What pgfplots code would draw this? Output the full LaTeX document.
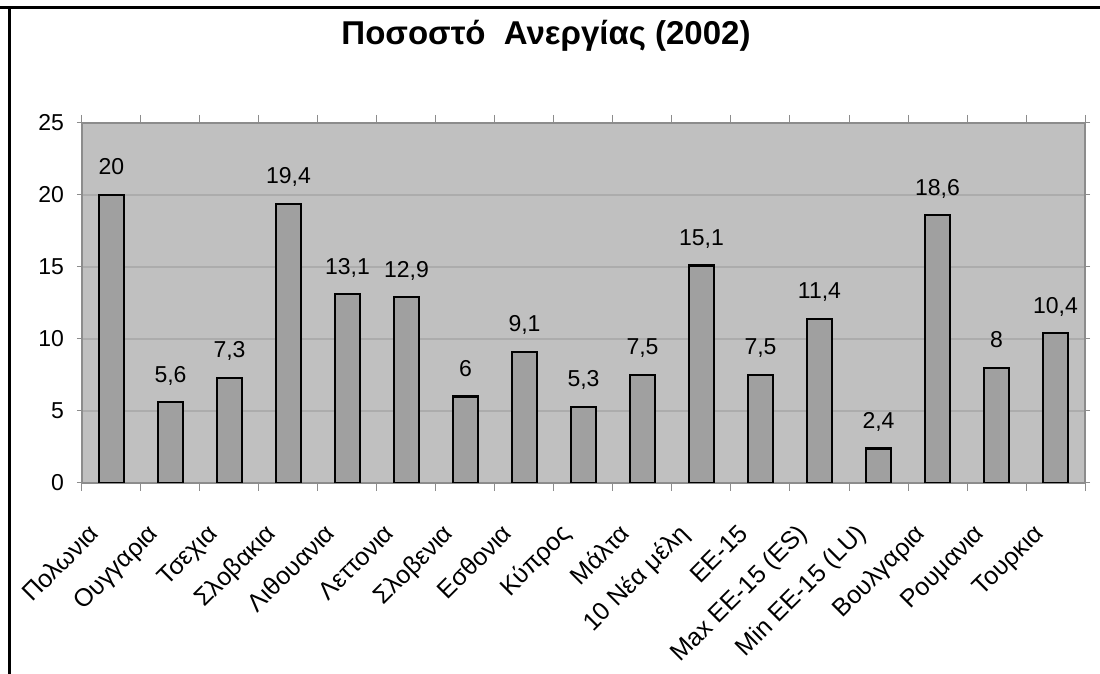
\documentclass[border=0pt]{standalone}
\usepackage{fontspec}
\setmainfont{Liberation Sans}
\usepackage{pgfplots}
\pgfplotsset{compat=1.18}

\definecolor{plotbg}{RGB}{192,192,192}
\definecolor{barfill}{RGB}{160,160,160}
\definecolor{gridc}{RGB}{172,172,172}
\definecolor{axisc}{RGB}{140,140,140}

\begin{document}
\begin{tikzpicture}[x=1pt,y=1pt]
% page = 1100x674 px, 1 px = 0.5pt, axis origin at px (82,483)
\useasboundingbox (-41,-95.5) rectangle (509,241.5);
\draw[line width=1.5pt] (-41,237.5) -- (509,237.5);
\draw[line width=1.5pt] (-36,237.5) -- (-36,-95.5);
\node[anchor=base, font=\bfseries\fontsize{16.5}{19}\selectfont] at (232,219) {Ποσοστό\ \ Ανεργίας (2002)};

\begin{axis}[
  at={(0,0)}, anchor=south west,
  scale only axis, width=501.5pt, height=180pt,
  ybar, bar width=12.5pt,
  ymin=0, ymax=25, ytick={0,5,...,25},
  xmin=-0.5, xmax=16.5,
  xtick={0,...,16},
  minor xtick={-0.5,0.5,...,16.5},
  xticklabels={Πολωνια, Ουγγαρια, Τσεχια, Σλοβακια, Λιθουανια, Λεττονια, Σλοβενια, Εσθονια, Κύπρος, Μάλτα, 10 Νέα μέλη, ΕΕ-15, Max ΕΕ-15 (ES), Min ΕΕ-15 (LU), Βουλγαρια, Ρουμανια, Τουρκια},
  axis background/.style={fill=plotbg},
  axis line style={draw=axisc, line width=0.6pt},
  ymajorgrids, grid style={draw=gridc, line width=0.6pt},
  xtick style={draw=none},
  minor x tick style={draw=axisc, line width=0.5pt},
  ytick style={draw=axisc, line width=0.5pt},
  tick align=outside, major tick length=2.5pt, minor tick length=4pt,
  tick label style={font=\fontsize{11.5}{13}\selectfont},
  yticklabel style={xshift=-3pt},
  xticklabel style={font=\fontsize{12.5}{14}\selectfont, xshift=-5.5pt, yshift=-23.5pt, rotate=45, anchor=base east, inner sep=0pt},
  /pgf/number format/.cd, use comma, assume math mode=true, /pgfplots/.cd,
  nodes near coords,
  nodes near coords style={anchor=base, inner sep=0pt, yshift=10pt, font=\fontsize{11.5}{13}\selectfont},
]
\addplot[draw=black, line width=1.1pt, fill=barfill] coordinates {
  (0,20) (1,5.6) (2,7.3) (3,19.4) (4,13.1) (5,12.9) (6,6) (7,9.1) (8,5.3)
  (9,7.5) (10,15.1) (11,7.5) (12,11.4) (13,2.4) (14,18.6) (15,8) (16,10.4)
};
\end{axis}
\end{tikzpicture}
\end{document}
